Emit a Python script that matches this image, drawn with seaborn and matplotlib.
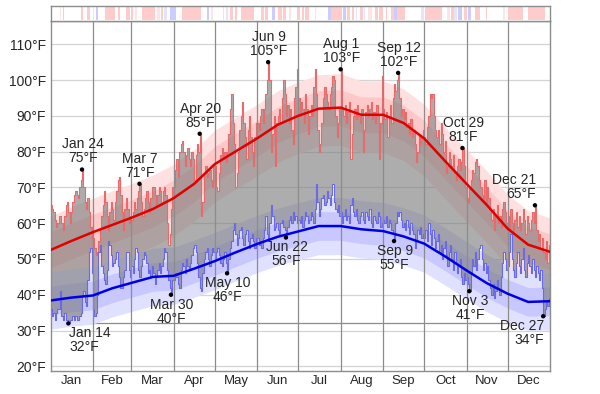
import numpy as np
import pandas as pd
import matplotlib
matplotlib.use('Agg')
import matplotlib.pyplot as plt
import seaborn as sns

# daily high / low temperatures (°F), one list per month
jan_hi = [65, 64, 63, 61, 59, 60, 62, 62, 60, 58, 62, 65, 66, 63, 60, 63, 66, 68, 69, 68, 67, 70, 72, 75, 70, 66, 64, 67, 63, 59, 56]
feb_hi = [56, 53, 51, 52, 55, 58, 62, 65, 69, 66, 62, 58, 63, 66, 64, 61, 66, 69, 72, 73, 68, 63, 58, 64, 67, 64, 60, 62]
mar_hi = [61, 63, 66, 64, 67, 69, 71, 66, 62, 64, 67, 69, 66, 63, 67, 70, 70, 68, 65, 68, 70, 69, 66, 69, 70, 68, 60, 54, 57, 64, 70]
apr_hi = [70, 75, 78, 73, 80, 82, 83, 80, 76, 79, 81, 78, 76, 80, 78, 72, 79, 82, 80, 85, 62, 66, 74, 76, 73, 74, 75, 72, 70, 76]
may_hi = [76, 70, 69, 74, 79, 81, 78, 80, 77, 80, 85, 92, 96, 88, 82, 70, 74, 80, 86, 90, 94, 88, 84, 78, 86, 90, 84, 80, 76, 84, 88]
jun_hi = [88, 86, 90, 92, 88, 92, 96, 100, 105, 100, 80, 85, 90, 76, 88, 90, 92, 88, 95, 100, 96, 90, 93, 88, 92, 86, 82, 95, 98, 103]
jul_hi = [95, 90, 94, 92, 88, 96, 92, 85, 90, 93, 90, 98, 103, 96, 86, 80, 82, 88, 95, 98, 96, 94, 92, 96, 98, 101, 100, 90, 84, 88, 92]
aug_hi = [103, 92, 90, 93, 88, 91, 94, 78, 85, 90, 92, 89, 93, 90, 88, 92, 80, 86, 91, 93, 90, 92, 94, 89, 91, 88, 93, 90, 78, 88, 101]
sep_hi = [92, 89, 91, 84, 90, 93, 88, 95, 99, 97, 100, 102, 95, 90, 92, 89, 91, 87, 88, 85, 89, 84, 86, 82, 77, 80, 85, 82, 84, 86]
oct_hi = [84, 82, 87, 90, 96, 95, 96, 90, 86, 84, 86, 82, 88, 85, 80, 83, 74, 76, 80, 78, 76, 79, 74, 72, 76, 78, 75, 77, 81, 76, 70]
nov_hi = [67, 66, 70, 72, 75, 74, 77, 78, 76, 72, 70, 68, 66, 72, 65, 70, 67, 64, 61, 64, 58, 62, 65, 60, 62, 59, 64, 66, 63, 60]
dec_hi = [62, 58, 64, 60, 57, 61, 63, 59, 62, 58, 60, 64, 61, 57, 62, 60, 58, 61, 63, 60, 65, 58, 55, 57, 53, 56, 52, 50, 55, 49, 54]

jan_lo = [36, 34, 35, 33, 35, 36, 36, 41, 34, 33, 35, 33, 33, 32, 33, 33, 34, 33, 34, 33, 33, 34, 35, 40, 41, 38, 37, 44, 52, 53, 46]
feb_lo = [36, 34, 35, 40, 52, 54, 48, 46, 44, 43, 47, 55, 54, 51, 48, 49, 50, 52, 48, 45, 42, 42, 45, 47, 52, 52, 47, 45]
mar_lo = [48, 46, 50, 53, 52, 47, 45, 48, 50, 52, 51, 49, 46, 47, 45, 48, 46, 43, 45, 47, 49, 46, 48, 50, 53, 52, 47, 44, 42, 40, 44]
apr_lo = [44, 46, 45, 43, 42, 47, 49, 48, 46, 50, 48, 47, 49, 51, 53, 54, 52, 49, 45, 42, 41, 46, 50, 52, 53, 50, 48, 51, 53, 52]
may_lo = [50, 52, 53, 51, 49, 48, 50, 52, 49, 46, 50, 53, 55, 58, 60, 57, 54, 56, 58, 59, 56, 54, 57, 58, 55, 53, 56, 57, 55, 53, 56]
jun_lo = [56, 54, 55, 53, 56, 58, 62, 57, 55, 60, 65, 62, 58, 59, 60, 58, 57, 60, 61, 59, 58, 56, 59, 61, 62, 60, 63, 61, 62, 60]
jul_lo = [61, 60, 62, 59, 61, 63, 62, 60, 61, 63, 62, 60, 64, 71, 66, 62, 64, 67, 68, 65, 66, 69, 67, 65, 68, 71, 66, 64, 63, 65, 62]
aug_lo = [63, 60, 62, 64, 61, 62, 60, 65, 67, 63, 62, 64, 61, 60, 62, 63, 61, 60, 63, 62, 61, 64, 60, 59, 62, 61, 60, 63, 62, 59, 60]
sep_lo = [61, 60, 62, 59, 61, 60, 58, 57, 55, 60, 63, 62, 63, 61, 59, 60, 58, 61, 59, 57, 60, 58, 57, 53, 55, 58, 57, 59, 56, 57]
oct_lo = [56, 58, 55, 60, 57, 54, 58, 56, 53, 55, 57, 52, 54, 50, 53, 55, 51, 48, 52, 54, 50, 47, 52, 49, 46, 48, 50, 45, 43, 46, 44]
nov_lo = [45, 43, 41, 46, 50, 48, 52, 47, 50, 53, 54, 50, 47, 49, 46, 48, 44, 42, 40, 43, 39, 41, 44, 42, 40, 45, 49, 52, 50, 47]
dec_lo = [48, 52, 57, 50, 47, 45, 49, 52, 48, 46, 50, 53, 47, 45, 49, 51, 48, 46, 50, 47, 45, 48, 46, 44, 47, 42, 34, 36, 38, 37, 39]

daily_hi = jan_hi + feb_hi + mar_hi + apr_hi + may_hi + jun_hi + jul_hi + aug_hi + sep_hi + oct_hi + nov_hi + dec_hi
daily_lo = jan_lo + feb_lo + mar_lo + apr_lo + may_lo + jun_lo + jul_lo + aug_lo + sep_lo + oct_lo + nov_lo + dec_lo

# normals, read at roughly twice-monthly points
knot_day = [0, 15, 31, 45, 59, 75, 90, 105, 120, 135, 151, 166, 181, 196, 212, 227, 243, 258, 273, 288, 304, 319, 334, 349, 365]
avg_hi = [52.5, 55, 57.5, 59.5, 61.5, 64, 67, 71, 76.5, 80, 83.7, 87.5, 90, 92, 92.3, 90.3, 90.3, 88, 83.7, 77.5, 71, 65, 58.5, 54, 52]
hi_p90 = [62, 64.5, 67, 69, 71, 73.5, 76.5, 80.5, 86, 89.5, 93.2, 97, 99.5, 101.5, 101.8, 99.8, 99.8, 97.5, 93.2, 87, 80.5, 74.5, 68, 63.5, 61.5]
hi_p75 = [57.5, 60, 62.5, 64.5, 66.5, 69, 72, 76, 81.5, 85, 88.7, 92.5, 95, 97, 97.3, 95.3, 95.3, 93, 88.7, 82.5, 76, 70, 63.5, 59, 57]
hi_p25 = [47.5, 50, 52.5, 54.5, 56.5, 59, 62, 66, 71.5, 75, 78.7, 82.5, 85, 87, 87.3, 85.3, 85.3, 83, 78.7, 72.5, 66, 60, 53.5, 49, 47]
hi_p10 = [42, 44.5, 47, 49, 51, 53.5, 56.5, 60.5, 66, 69.5, 73.2, 77, 79.5, 81.5, 81.8, 79.8, 79.8, 77.5, 73.2, 67, 60.5, 54.5, 48, 43.5, 41.5]
avg_lo = [38.4, 39.2, 39.8, 41.8, 43.3, 45, 45.3, 47.3, 49.4, 51.8, 54.2, 56.2, 57.7, 59.2, 59.2, 58.3, 57.8, 56.3, 54.3, 50.8, 46.8, 43.2, 40.3, 38, 38.2]
lo_p90 = [46.4, 47.2, 47.8, 49.8, 51.3, 53, 53.3, 55.3, 57.4, 59.8, 62.2, 64.2, 65.7, 67.2, 67.2, 66.3, 65.8, 64.3, 62.3, 58.8, 54.8, 51.2, 48.3, 46, 46.2]
lo_p75 = [42.4, 43.2, 43.8, 45.8, 47.3, 49, 49.3, 51.3, 53.4, 55.8, 58.2, 60.2, 61.7, 63.2, 63.2, 62.3, 61.8, 60.3, 58.3, 54.8, 50.8, 47.2, 44.3, 42, 42.2]
lo_p25 = [34.4, 35.2, 35.8, 37.8, 39.3, 41, 41.3, 43.3, 45.4, 47.8, 50.2, 52.2, 53.7, 55.2, 55.2, 54.3, 53.8, 52.3, 50.3, 46.8, 42.8, 39.2, 36.3, 34, 34.2]
lo_p10 = [30.4, 31.2, 31.8, 33.8, 35.3, 37, 37.3, 39.3, 41.4, 43.8, 46.2, 48.2, 49.7, 51.2, 51.2, 50.3, 49.8, 48.3, 46.3, 42.8, 38.8, 35.2, 32.3, 30, 30.2]

# annotated extremes
hi_rec_day = [23, 65, 109, 159, 212, 254, 301, 354]
hi_rec_val = [75, 71, 85, 105, 103, 102, 81, 65]
hi_rec_lab = ['Jan 24', 'Mar 7', 'Apr 20', 'Jun 9', 'Aug 1', 'Sep 12', 'Oct 29', 'Dec 21']
lo_rec_day = [13, 88, 129, 172, 251, 306, 360]
lo_rec_val = [32, 40, 46, 56, 55, 41, 34]
lo_rec_lab = ['Jan 14', 'Mar 30', 'May 10', 'Jun 22', 'Sep 9', 'Nov 3', 'Dec 27']

months = ['Jan', 'Feb', 'Mar', 'Apr', 'May', 'Jun', 'Jul', 'Aug', 'Sep', 'Oct', 'Nov', 'Dec']
month_start = [0, 31, 59, 90, 120, 151, 181, 212, 243, 273, 304, 334, 365]

# top strip: (first day, last day, kind)
strip_start = [7, 9, 22, 27, 31, 33, 40, 49, 55, 59, 62, 67, 78, 81, 83, 87, 96, 114, 117, 126, 128, 131, 135, 139,
               154, 157, 162, 166, 170, 174, 180, 184, 186, 193, 203, 205, 214, 217, 220, 223, 226, 229, 232, 237,
               240, 245, 249, 251, 253, 271, 274, 290, 293, 295, 298, 302, 305, 310, 318, 331, 334, 349]
strip_end = [8, 10, 24, 29, 32, 35, 47, 51, 58, 60, 63, 76, 80, 82, 85, 92, 110, 116, 119, 127, 130, 133, 136, 149,
             156, 159, 164, 169, 172, 176, 182, 185, 189, 194, 205, 213, 216, 219, 222, 224, 228, 230, 235, 239,
             243, 246, 251, 253, 259, 273, 286, 292, 295, 297, 301, 304, 307, 314, 319, 332, 345, 361]
strip_kind = ['rl', 'r', 'r', 'r', 'bl', 'b', 'r', 'r', 'r', 'r', 'rl', 'r', 'rl', 'r', 'bl', 'b', 'r', 'b', 'rl', 'bl',
              'bl', 'r', 'r', 'r', 'r', 'r', 'b', 'r', 'r', 'rl', 'r', 'r', 'r', 'rl', 'b', 'r', 'b', 'r', 'r', 'bl',
              'r', 'bl', 'rl', 'r', 'r', 'r', 'r', 'b', 'r', 'bl', 'r', 'rl', 'r', 'bl', 'b', 'r', 'b', 'r', 'r',
              'rl', 'r', 'r']
strip_color = {'r': '#ffcccc', 'rl': '#ffe4e4', 'b': '#ccccff', 'bl': '#e4e4ff'}

sns.set_style('white')
plt.rcParams['font.family'] = ['Liberation Sans', 'DejaVu Sans']

fig = plt.figure(figsize=(6, 3.94), dpi=100)
ax = fig.add_axes([0.0842, 0.0584, 0.8325, 0.8883])
sax = fig.add_axes([0.0842, 0.9467, 0.8325, 0.038])

days = np.arange(366)
hi_ext = daily_hi + [daily_hi[-1]]
lo_ext = daily_lo + [daily_lo[-1]]

# horizontal grid + freezing line
for t in range(20, 120, 10):
    ax.axhline(t, color='#d4d4d4', lw=0.9, zorder=0)
ax.axhline(32, color='#8c8c8c', lw=0.9, zorder=0)

# percentile bands
ax.fill_between(knot_day, hi_p10, hi_p90, color='#ffe0e0', lw=0, zorder=1)
ax.fill_between(knot_day, hi_p25, hi_p75, color='#ffc8c8', lw=0, zorder=1)
ax.fill_between(knot_day, lo_p10, lo_p90, color='#e0e0ff', lw=0, zorder=1)
ax.fill_between(knot_day, lo_p25, lo_p75, color='#c8c8ff', lw=0, zorder=1)

# daily range bars
ax.fill_between(days, lo_ext, hi_ext, step='post', color='#777777', alpha=0.6, lw=0, zorder=2)
ax.step(days, hi_ext, where='post', color='#e86a6a', lw=0.8, zorder=3)
ax.step(days, lo_ext, where='post', color='#6a6ae8', lw=0.8, zorder=3)

# month separators
for d in month_start[1:-1]:
    ax.axvline(d, color='#8c8c8c', lw=0.9, zorder=4)

# normals
norm = pd.DataFrame({'day': knot_day, 'hi': avg_hi, 'lo': avg_lo})
sns.lineplot(data=norm, x='day', y='hi', color='#e00000', lw=1.8, ax=ax, zorder=5)
sns.lineplot(data=norm, x='day', y='lo', color='#0000e8', lw=1.8, ax=ax, zorder=5)

# extremes
sns.scatterplot(x=hi_rec_day + lo_rec_day, y=hi_rec_val + lo_rec_val, color='black', s=10,
                edgecolor='none', ax=ax, zorder=6)
for d, v, lab in zip(hi_rec_day, hi_rec_val, hi_rec_lab):
    ha = 'left' if d < 18 else ('right' if d > 345 else 'center')
    ax.annotate(f'{lab}\n{v}°F', (d + 0.5, v), xytext=(0, 3), textcoords='offset points',
                ha=ha, va='bottom', fontsize=10, linespacing=1.0, zorder=7)
for d, v, lab in zip(lo_rec_day, lo_rec_val, lo_rec_lab):
    ha = 'left' if d < 18 else ('right' if d > 345 else 'center')
    ax.annotate(f'{lab}\n{v}°F', (d + 0.5, v), xytext=(0, -2), textcoords='offset points',
                ha=ha, va='top', fontsize=10, linespacing=1.0, zorder=7)

ax.set_xlim(0, 365)
ax.set_ylim(18.7, 116.5)
ax.set_yticks(range(20, 120, 10))
ax.set_yticklabels([f'{t}°F' for t in range(20, 120, 10)], fontsize=10)
mid = [(a + b) / 2 for a, b in zip(month_start[:-1], month_start[1:])]
ax.set_xticks(mid)
ax.set_xticklabels(months, fontsize=9.5)
ax.tick_params(length=0, pad=3)
ax.set_xlabel('')
ax.set_ylabel('')
for s in ax.spines.values():
    s.set_color('#8c8c8c')
    s.set_linewidth(1)

# top strip
for a, b, k in zip(strip_start, strip_end, strip_kind):
    sax.axvspan(a, b, ymin=0.06, ymax=0.94, color=strip_color[k], lw=0)
sax.set_xlim(0, 365)
sax.set_ylim(0, 1)
sax.set_xticks([])
sax.set_yticks([])
for s in sax.spines.values():
    s.set_color('#8c8c8c')
    s.set_linewidth(1)

fig.savefig('out.png', dpi=100)
